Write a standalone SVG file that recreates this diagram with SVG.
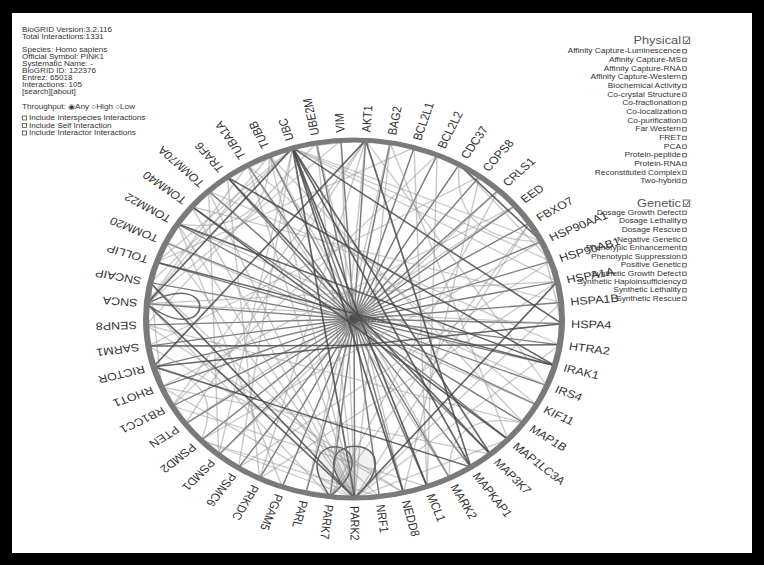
<svg xmlns="http://www.w3.org/2000/svg" width="764" height="565" viewBox="0 0 764 565">
<style>
.lbl{font-family:"Liberation Sans",Arial,sans-serif;font-size:10.8px;fill:#333}
.hub{stroke:#505050;stroke-width:1.3;stroke-opacity:.75}
.dk{stroke:#4a4a4a;stroke-width:1.5;stroke-opacity:.85;fill:none}
.lt{stroke:#999;stroke-width:1.2;stroke-opacity:.55;fill:none}
.lp{stroke:#666;stroke-width:1.4;fill:#888;fill-opacity:.12}
.leg{font-family:"Liberation Sans","DejaVu Sans",Arial,sans-serif;font-size:7px;fill:#333}
.ev{font-family:"Liberation Sans",Arial,sans-serif;font-size:7.2px;fill:#333;text-anchor:end}
.hd{font-family:"Liberation Sans",Arial,sans-serif;font-size:11px;fill:#555;text-anchor:end}
.cb{fill:#fff;stroke:#555;stroke-width:.8}
</style>
<rect width="764" height="565" fill="#000"/>
<rect x="12" y="13" width="740" height="540" fill="#fff"/>

<g id="legend-info" transform="translate(22,0) scale(1.16,1)">
<text class="leg" x="0" y="32.5">BioGRID Version:3.2.116</text>
<text class="leg" x="0" y="39.5">Total Interactions:1331</text>
<text class="leg" x="0" y="52.5">Species: Homo sapiens</text>
<text class="leg" x="0" y="59.5">Official Symbol: PINK1</text>
<text class="leg" x="0" y="66.5">Systematic Name: -</text>
<text class="leg" x="0" y="73.5">BioGRID ID: 122376</text>
<text class="leg" x="0" y="80.5">Entrez: 65018</text>
<text class="leg" x="0" y="87.5">Interactions: 105</text>
<text class="leg" x="0" y="94.5">[search][about]</text>
<text class="leg" x="0" y="109.5">Throughput: ◉Any ○High ○Low</text>
<rect class="cb" x="0.3" y="116" width="3.5" height="4"/>
<text class="leg" x="6" y="120.5">Include Interspecies Interactions</text>
<rect class="cb" x="0.3" y="123.5" width="3.5" height="4"/>
<text class="leg" x="6" y="128">Include Self Interaction</text>
<rect class="cb" x="0.3" y="131" width="3.5" height="4"/>
<text class="leg" x="6" y="135.5">Include Interactor Interactions</text>
</g>

<g id="legend-physical" transform="translate(681,0) scale(1.16,1)">
<text class="hd" x="0" y="44">Physical</text>
<rect class="cb" x="2" y="37" width="5.5" height="6.5"/>
<path d="M3,40.5 L4.5,42.5 L7,38" fill="none" stroke="#555" stroke-width=".8"/>
<text class="ev" x="0" y="53.5">Affinity Capture-Luminescence</text>
<text class="ev" x="0" y="62.2">Affinity Capture-MS</text>
<text class="ev" x="0" y="70.8">Affinity Capture-RNA</text>
<text class="ev" x="0" y="79.5">Affinity Capture-Western</text>
<text class="ev" x="0" y="88.2">Biochemical Activity</text>
<text class="ev" x="0" y="96.8">Co-crystal Structure</text>
<text class="ev" x="0" y="105.5">Co-fractionation</text>
<text class="ev" x="0" y="114.2">Co-localization</text>
<text class="ev" x="0" y="122.9">Co-purification</text>
<text class="ev" x="0" y="131.5">Far Western</text>
<text class="ev" x="0" y="140.2">FRET</text>
<text class="ev" x="0" y="148.9">PCA</text>
<text class="ev" x="0" y="157.5">Protein-peptide</text>
<text class="ev" x="0" y="166.2">Protein-RNA</text>
<text class="ev" x="0" y="174.9">Reconstituted Complex</text>
<text class="ev" x="0" y="183.5">Two-hybrid</text>
<g class="cb">
<rect x="1.5" y="49.5" width="3" height="3.5"/><rect x="1.5" y="58.2" width="3" height="3.5"/><rect x="1.5" y="66.8" width="3" height="3.5"/><rect x="1.5" y="75.5" width="3" height="3.5"/><rect x="1.5" y="84.2" width="3" height="3.5"/><rect x="1.5" y="92.8" width="3" height="3.5"/><rect x="1.5" y="101.5" width="3" height="3.5"/><rect x="1.5" y="110.2" width="3" height="3.5"/><rect x="1.5" y="118.9" width="3" height="3.5"/><rect x="1.5" y="127.5" width="3" height="3.5"/><rect x="1.5" y="136.2" width="3" height="3.5"/><rect x="1.5" y="144.9" width="3" height="3.5"/><rect x="1.5" y="153.5" width="3" height="3.5"/><rect x="1.5" y="162.2" width="3" height="3.5"/><rect x="1.5" y="170.9" width="3" height="3.5"/><rect x="1.5" y="179.5" width="3" height="3.5"/>
</g>
</g>

<g id="legend-genetic" transform="translate(681,0) scale(1.16,1)">
<text class="hd" x="0" y="207">Genetic</text>
<rect class="cb" x="2" y="200" width="5.5" height="6.5"/>
<path d="M3,203.5 L4.5,205.5 L7,201" fill="none" stroke="#555" stroke-width=".8"/>
<text class="ev" x="0" y="215">Dosage Growth Defect</text>
<text class="ev" x="0" y="223.5">Dosage Lethality</text>
<text class="ev" x="0" y="232">Dosage Rescue</text>
<text class="ev" x="0" y="242">Negative Genetic</text>
<text class="ev" x="0" y="250.5">Phenotypic Enhancement</text>
<text class="ev" x="0" y="259">Phenotypic Suppression</text>
<text class="ev" x="0" y="267.5">Positive Genetic</text>
<text class="ev" x="0" y="276">Synthetic Growth Defect</text>
<text class="ev" x="0" y="284">Synthetic Haploinsufficiency</text>
<text class="ev" x="0" y="292.5">Synthetic Lethality</text>
<text class="ev" x="0" y="301">Synthetic Rescue</text>
<g class="cb">
<rect x="1.5" y="211" width="3" height="3.5"/><rect x="1.5" y="219.5" width="3" height="3.5"/><rect x="1.5" y="228" width="3" height="3.5"/><rect x="1.5" y="238" width="3" height="3.5"/><rect x="1.5" y="246.5" width="3" height="3.5"/><rect x="1.5" y="255" width="3" height="3.5"/><rect x="1.5" y="263.5" width="3" height="3.5"/><rect x="1.5" y="272" width="3" height="3.5"/><rect x="1.5" y="280" width="3" height="3.5"/><rect x="1.5" y="288.5" width="3" height="3.5"/><rect x="1.5" y="297" width="3" height="3.5"/>
</g>
</g>

<g id="circle-view" transform="translate(354,319) scale(1.162,1)">
<g id="connectors">
<g id="hub-edges" class="hub">
<line x2="179" transform="rotate(-86.80)"/><line x2="179" transform="rotate(-80.01)"/><line x2="179" transform="rotate(-73.22)"/><line x2="179" transform="rotate(-66.42)"/><line x2="179" transform="rotate(-59.63)"/><line x2="179" transform="rotate(-52.84)"/><line x2="179" transform="rotate(-46.05)"/><line x2="179" transform="rotate(-39.25)"/><line x2="179" transform="rotate(-32.46)"/><line x2="179" transform="rotate(-25.67)"/><line x2="179" transform="rotate(-18.88)"/><line x2="179" transform="rotate(-12.08)"/><line x2="179" transform="rotate(-5.29)"/><line x2="179" transform="rotate(1.50)"/><line x2="179" transform="rotate(8.29)"/><line x2="179" transform="rotate(15.08)"/><line x2="179" transform="rotate(21.88)"/><line x2="179" transform="rotate(28.67)"/><line x2="179" transform="rotate(35.46)"/><line x2="179" transform="rotate(42.25)"/><line x2="179" transform="rotate(49.05)"/><line x2="179" transform="rotate(55.84)"/><line x2="179" transform="rotate(62.63)"/><line x2="179" transform="rotate(69.42)"/><line x2="179" transform="rotate(76.22)"/><line x2="179" transform="rotate(83.01)"/><line x2="179" transform="rotate(89.80)"/><line x2="179" transform="rotate(96.59)"/><line x2="179" transform="rotate(103.39)"/><line x2="179" transform="rotate(110.18)"/><line x2="179" transform="rotate(116.97)"/><line x2="179" transform="rotate(123.76)"/><line x2="179" transform="rotate(130.56)"/><line x2="179" transform="rotate(137.35)"/><line x2="179" transform="rotate(144.14)"/><line x2="179" transform="rotate(150.93)"/><line x2="179" transform="rotate(157.73)"/><line x2="179" transform="rotate(164.52)"/><line x2="179" transform="rotate(171.31)"/><line x2="179" transform="rotate(178.10)"/><line x2="179" transform="rotate(184.89)"/><line x2="179" transform="rotate(191.69)"/><line x2="179" transform="rotate(198.48)"/><line x2="179" transform="rotate(205.27)"/><line x2="179" transform="rotate(212.06)"/><line x2="179" transform="rotate(218.86)"/><line x2="179" transform="rotate(225.65)"/><line x2="179" transform="rotate(232.44)"/><line x2="179" transform="rotate(239.23)"/><line x2="179" transform="rotate(246.03)"/><line x2="179" transform="rotate(252.82)"/><line x2="179" transform="rotate(259.61)"/><line x2="179" transform="rotate(266.40)"/>
</g>
<g id="interactor-edges-light" class="lt">
<line x1="15.90" y1="-178.29" x2="15.90" y2="178.29" transform="rotate(4.90)"/>
<line x1="57.33" y1="-169.57" x2="57.33" y2="169.57" transform="rotate(-1.89)"/>
<line x1="67.27" y1="-165.88" x2="67.27" y2="165.88" transform="rotate(1.50)"/>
<line x1="76.99" y1="-161.60" x2="76.99" y2="161.60" transform="rotate(11.69)"/>
<line x1="5.30" y1="-178.92" x2="5.30" y2="178.92" transform="rotate(42.26)"/>
<line x1="26.43" y1="-177.04" x2="26.43" y2="177.04" transform="rotate(239.24)"/>
<line x1="86.42" y1="-156.76" x2="86.42" y2="156.76" transform="rotate(28.67)"/>
<line x1="76.99" y1="-161.60" x2="76.99" y2="161.60" transform="rotate(32.07)"/>
<line x1="174.00" y1="-42.05" x2="174.00" y2="42.05" transform="rotate(-12.08)"/>
<line x1="135.60" y1="-116.85" x2="135.60" y2="116.85" transform="rotate(293.58)"/>
<line x1="128.43" y1="-124.68" x2="128.43" y2="124.68" transform="rotate(296.97)"/>
<line x1="120.82" y1="-132.07" x2="120.82" y2="132.07" transform="rotate(300.37)"/>
<line x1="120.82" y1="-132.07" x2="120.82" y2="132.07" transform="rotate(42.26)"/>
<line x1="167.80" y1="-62.32" x2="167.80" y2="62.32" transform="rotate(-39.25)"/>
<line x1="26.43" y1="-177.04" x2="26.43" y2="177.04" transform="rotate(266.41)"/>
<line x1="5.30" y1="-178.92" x2="5.30" y2="178.92" transform="rotate(273.20)"/>
<line x1="135.60" y1="-116.85" x2="135.60" y2="116.85" transform="rotate(49.05)"/>
<line x1="104.34" y1="-145.44" x2="104.34" y2="145.44" transform="rotate(-32.46)"/>
<line x1="47.18" y1="-172.67" x2="47.18" y2="172.67" transform="rotate(313.96)"/>
<line x1="47.18" y1="-172.67" x2="47.18" y2="172.67" transform="rotate(320.75)"/>
<line x1="163.80" y1="-72.16" x2="163.80" y2="72.16" transform="rotate(66.03)"/>
<line x1="86.42" y1="-156.76" x2="86.42" y2="156.76" transform="rotate(-18.88)"/>
<line x1="5.30" y1="-178.92" x2="5.30" y2="178.92" transform="rotate(334.33)"/>
<line x1="5.30" y1="-178.92" x2="5.30" y2="178.92" transform="rotate(150.94)"/>
<line x1="5.30" y1="-178.92" x2="5.30" y2="178.92" transform="rotate(347.92)"/>
<line x1="112.78" y1="-139.00" x2="112.78" y2="139.00" transform="rotate(127.16)"/>
<line x1="159.25" y1="-81.75" x2="159.25" y2="81.75" transform="rotate(110.18)"/>
<line x1="128.43" y1="-124.68" x2="128.43" y2="124.68" transform="rotate(140.75)"/>
<line x1="5.30" y1="-178.92" x2="5.30" y2="178.92" transform="rotate(184.90)"/>
<line x1="36.87" y1="-175.16" x2="36.87" y2="175.16" transform="rotate(195.09)"/>
<line x1="176.18" y1="-31.67" x2="176.18" y2="31.67" transform="rotate(99.99)"/>
<line x1="177.74" y1="-21.17" x2="177.74" y2="21.17" transform="rotate(130.56)"/>
<line x1="76.99" y1="-161.60" x2="76.99" y2="161.60" transform="rotate(188.30)"/>
<line x1="86.42" y1="-156.76" x2="86.42" y2="156.76" transform="rotate(191.69)"/>
<line x1="163.80" y1="-72.16" x2="163.80" y2="72.16" transform="rotate(113.58)"/>
<line x1="76.99" y1="-161.60" x2="76.99" y2="161.60" transform="rotate(208.67)"/>
<line x1="86.42" y1="-156.76" x2="86.42" y2="156.76" transform="rotate(212.07)"/>
<line x1="148.46" y1="-100.00" x2="148.46" y2="100.00" transform="rotate(123.77)"/>
<line x1="171.20" y1="-52.27" x2="171.20" y2="52.27" transform="rotate(174.71)"/>
<line x1="120.82" y1="-132.07" x2="120.82" y2="132.07" transform="rotate(123.77)"/>
<line x1="135.60" y1="-116.85" x2="135.60" y2="116.85" transform="rotate(218.86)"/>
<line x1="154.13" y1="-91.02" x2="154.13" y2="91.02" transform="rotate(222.26)"/>
<line x1="159.25" y1="-81.75" x2="159.25" y2="81.75" transform="rotate(225.65)"/>
<line x1="95.55" y1="-151.36" x2="95.55" y2="151.36" transform="rotate(147.54)"/>
<line x1="86.42" y1="-156.76" x2="86.42" y2="156.76" transform="rotate(150.94)"/>
<line x1="76.99" y1="-161.60" x2="76.99" y2="161.60" transform="rotate(154.33)"/>
<line x1="67.27" y1="-165.88" x2="67.27" y2="165.88" transform="rotate(157.73)"/>
<line x1="177.74" y1="-21.17" x2="177.74" y2="21.17" transform="rotate(212.07)"/>
<line x1="177.74" y1="-21.17" x2="177.74" y2="21.17" transform="rotate(218.86)"/>
<line x1="176.18" y1="-31.67" x2="176.18" y2="31.67" transform="rotate(242.63)"/>
<line x1="159.25" y1="-81.75" x2="159.25" y2="81.75" transform="rotate(212.07)"/>
<line x1="154.13" y1="-91.02" x2="154.13" y2="91.02" transform="rotate(215.46)"/>
<line x1="36.87" y1="-175.16" x2="36.87" y2="175.16" transform="rotate(167.92)"/>
<line x1="47.18" y1="-172.67" x2="47.18" y2="172.67" transform="rotate(164.52)"/>
<line x1="15.90" y1="-178.29" x2="15.90" y2="178.29" transform="rotate(174.71)"/>
<line x1="135.60" y1="-116.85" x2="135.60" y2="116.85" transform="rotate(225.65)"/>
<line x1="5.30" y1="-178.92" x2="5.30" y2="178.92" transform="rotate(178.11)"/>
<line x1="176.18" y1="-31.67" x2="176.18" y2="31.67" transform="rotate(263.01)"/>
<line x1="57.33" y1="-169.57" x2="57.33" y2="169.57" transform="rotate(25.28)"/>
<line x1="5.30" y1="-178.92" x2="5.30" y2="178.92" transform="rotate(232.45)"/>
<line x1="57.33" y1="-169.57" x2="57.33" y2="169.57" transform="rotate(222.26)"/>
<line x1="67.27" y1="-165.88" x2="67.27" y2="165.88" transform="rotate(239.24)"/>
<line x1="128.43" y1="-124.68" x2="128.43" y2="124.68" transform="rotate(242.63)"/>
<line x1="67.27" y1="-165.88" x2="67.27" y2="165.88" transform="rotate(286.79)"/>
<line x1="57.33" y1="-169.57" x2="57.33" y2="169.57" transform="rotate(296.97)"/>
<line x1="15.90" y1="-178.29" x2="15.90" y2="178.29" transform="rotate(296.97)"/>
<line x1="5.30" y1="-178.92" x2="5.30" y2="178.92" transform="rotate(116.97)"/>
<line x1="57.33" y1="-169.57" x2="57.33" y2="169.57" transform="rotate(106.79)"/>
<line x1="104.34" y1="-145.44" x2="104.34" y2="145.44" transform="rotate(103.39)"/>
<line x1="135.60" y1="-116.85" x2="135.60" y2="116.85" transform="rotate(110.18)"/>
<line x1="104.34" y1="-145.44" x2="104.34" y2="145.44" transform="rotate(137.35)"/>
<line x1="112.78" y1="-139.00" x2="112.78" y2="139.00" transform="rotate(161.12)"/>
<line x1="95.55" y1="-151.36" x2="95.55" y2="151.36" transform="rotate(174.71)"/>
<line x1="120.82" y1="-132.07" x2="120.82" y2="132.07" transform="rotate(178.11)"/>
<line x1="26.43" y1="-177.04" x2="26.43" y2="177.04" transform="rotate(55.84)"/>
<line x1="57.33" y1="-169.57" x2="57.33" y2="169.57" transform="rotate(52.45)"/>
<line x1="76.99" y1="-161.60" x2="76.99" y2="161.60" transform="rotate(52.45)"/>
<line x1="5.30" y1="-178.92" x2="5.30" y2="178.92" transform="rotate(191.69)"/>
<path d="M171.2,-52.27 Q115,0 171.2,52.27" transform="rotate(-42.65)"/>
<path d="M171.2,-52.27 Q110,0 171.2,52.27" transform="rotate(229.05)"/>
<path d="M174,-42.05 Q120,0 174,42.05" transform="rotate(49.05)"/>
<path d="M174,-42.05 Q125,0 174,42.05" transform="rotate(150.94)"/>
</g>
<g id="interactor-edges-dark" class="dk">
<line x1="26.43" y1="-177.04" x2="26.43" y2="177.04" transform="rotate(171.31)"/>
<line x1="5.30" y1="-178.92" x2="5.30" y2="178.92" transform="rotate(341.12)"/>
<line x1="36.87" y1="-175.16" x2="36.87" y2="175.16" transform="rotate(330.94)"/>
<line x1="5.30" y1="-178.92" x2="5.30" y2="178.92" transform="rotate(164.52)"/>
<line x1="57.33" y1="-169.57" x2="57.33" y2="169.57" transform="rotate(303.77)"/>
<line x1="5.30" y1="-178.92" x2="5.30" y2="178.92" transform="rotate(320.75)"/>
<line x1="5.30" y1="-178.92" x2="5.30" y2="178.92" transform="rotate(286.79)"/>
<line x1="120.82" y1="-132.07" x2="120.82" y2="132.07" transform="rotate(137.35)"/>
<line x1="112.78" y1="-139.00" x2="112.78" y2="139.00" transform="rotate(140.75)"/>
<line x1="104.34" y1="-145.44" x2="104.34" y2="145.44" transform="rotate(307.16)"/>
<line x1="148.46" y1="-100.00" x2="148.46" y2="100.00" transform="rotate(218.86)"/>
<line x1="112.78" y1="-139.00" x2="112.78" y2="139.00" transform="rotate(38.86)"/>
<line x1="26.43" y1="-177.04" x2="26.43" y2="177.04" transform="rotate(334.33)"/>
<line x1="171.20" y1="-52.27" x2="171.20" y2="52.27" transform="rotate(-42.65)"/>
<line x1="26.43" y1="-177.04" x2="26.43" y2="177.04" transform="rotate(293.58)"/>
<line x1="5.30" y1="-178.92" x2="5.30" y2="178.92" transform="rotate(130.56)"/>
<line x1="26.43" y1="-177.04" x2="26.43" y2="177.04" transform="rotate(83.01)"/>
<line x1="26.43" y1="-177.04" x2="26.43" y2="177.04" transform="rotate(89.80)"/>
<line x1="104.34" y1="-145.44" x2="104.34" y2="145.44" transform="rotate(110.18)"/>
<line x1="57.33" y1="-169.57" x2="57.33" y2="169.57" transform="rotate(-15.48)"/>
<line x1="104.34" y1="-145.44" x2="104.34" y2="145.44" transform="rotate(218.86)"/>
</g>
<g id="self-loops" class="lp">
<path d="M179,0 C112,-52 112,52 179,0" transform="rotate(96.59)"/>
<path d="M179,0 C110,-62 110,62 179,0" transform="rotate(89.80)"/>
<path d="M179,0 C118,-45 118,45 179,0" transform="rotate(184.89)" fill="none"/>
</g>
</g>

<circle id="ring" r="179" fill="none" stroke="#7a7a7a" stroke-width="5.2"/>

<g id="node-PINK1"><text x="4" y="3" font-family="Liberation Sans,Arial,sans-serif" font-size="8" fill="#555">PINK1</text></g>
<g id="node-AKT1"><text class="lbl" dy=".35em" transform="rotate(-86.80) translate(187,0)">AKT1</text></g>
<g id="node-BAG2"><text class="lbl" dy=".35em" transform="rotate(-80.01) translate(187,0)">BAG2</text></g>
<g id="node-BCL2L1"><text class="lbl" dy=".35em" transform="rotate(-73.22) translate(187,0)">BCL2L1</text></g>
<g id="node-BCL2L2"><text class="lbl" dy=".35em" transform="rotate(-66.42) translate(187,0)">BCL2L2</text></g>
<g id="node-CDC37"><text class="lbl" dy=".35em" transform="rotate(-59.63) translate(187,0)">CDC37</text></g>
<g id="node-COPS8"><text class="lbl" dy=".35em" transform="rotate(-52.84) translate(187,0)">COPS8</text></g>
<g id="node-CRLS1"><text class="lbl" dy=".35em" transform="rotate(-46.05) translate(187,0)">CRLS1</text></g>
<g id="node-EED"><text class="lbl" dy=".35em" transform="rotate(-39.25) translate(187,0)">EED</text></g>
<g id="node-FBXO7"><text class="lbl" dy=".35em" transform="rotate(-32.46) translate(187,0)">FBXO7</text></g>
<g id="node-HSP90AA1"><text class="lbl" dy=".35em" transform="rotate(-25.67) translate(187,0)">HSP90AA1</text></g>
<g id="node-HSP90AB1"><text class="lbl" dy=".35em" transform="rotate(-18.88) translate(187,0)">HSP90AB1</text></g>
<g id="node-HSPA1A"><text class="lbl" dy=".35em" transform="rotate(-12.08) translate(187,0)">HSPA1A</text></g>
<g id="node-HSPA1B"><text class="lbl" dy=".35em" transform="rotate(-5.29) translate(187,0)">HSPA1B</text></g>
<g id="node-HSPA4"><text class="lbl" dy=".35em" transform="rotate(1.50) translate(187,0)">HSPA4</text></g>
<g id="node-HTRA2"><text class="lbl" dy=".35em" transform="rotate(8.29) translate(187,0)">HTRA2</text></g>
<g id="node-IRAK1"><text class="lbl" dy=".35em" transform="rotate(15.08) translate(187,0)">IRAK1</text></g>
<g id="node-IRS4"><text class="lbl" dy=".35em" transform="rotate(21.88) translate(187,0)">IRS4</text></g>
<g id="node-KIF11"><text class="lbl" dy=".35em" transform="rotate(28.67) translate(187,0)">KIF11</text></g>
<g id="node-MAP1B"><text class="lbl" dy=".35em" transform="rotate(35.46) translate(187,0)">MAP1B</text></g>
<g id="node-MAP1LC3A"><text class="lbl" dy=".35em" transform="rotate(42.25) translate(187,0)">MAP1LC3A</text></g>
<g id="node-MAP3K7"><text class="lbl" dy=".35em" transform="rotate(49.05) translate(187,0)">MAP3K7</text></g>
<g id="node-MAPKAP1"><text class="lbl" dy=".35em" transform="rotate(55.84) translate(187,0)">MAPKAP1</text></g>
<g id="node-MARK2"><text class="lbl" dy=".35em" transform="rotate(62.63) translate(187,0)">MARK2</text></g>
<g id="node-MCL1"><text class="lbl" dy=".35em" transform="rotate(69.42) translate(187,0)">MCL1</text></g>
<g id="node-NEDD8"><text class="lbl" dy=".35em" transform="rotate(76.22) translate(187,0)">NEDD8</text></g>
<g id="node-NRF1"><text class="lbl" dy=".35em" transform="rotate(83.01) translate(187,0)">NRF1</text></g>
<g id="node-PARK2"><text class="lbl" dy=".35em" transform="rotate(89.80) translate(187,0)">PARK2</text></g>
<g id="node-PARK7"><text class="lbl" dy=".35em" transform="rotate(96.59) translate(187,0)">PARK7</text></g>
<g id="node-PARL"><text class="lbl" dy=".35em" transform="rotate(103.39) translate(187,0)">PARL</text></g>
<g id="node-PGAM5"><text class="lbl" dy=".35em" transform="rotate(110.18) translate(187,0)">PGAM5</text></g>
<g id="node-PRKDC"><text class="lbl" dy=".35em" transform="rotate(116.97) translate(187,0)">PRKDC</text></g>
<g id="node-PSMC6"><text class="lbl" dy=".35em" transform="rotate(123.76) translate(187,0)">PSMC6</text></g>
<g id="node-PSMD1"><text class="lbl" dy=".35em" transform="rotate(130.56) translate(187,0)">PSMD1</text></g>
<g id="node-PSMD2"><text class="lbl" dy=".35em" transform="rotate(137.35) translate(187,0)">PSMD2</text></g>
<g id="node-PTEN"><text class="lbl" dy=".35em" transform="rotate(144.14) translate(187,0)">PTEN</text></g>
<g id="node-RB1CC1"><text class="lbl" dy=".35em" transform="rotate(150.93) translate(187,0)">RB1CC1</text></g>
<g id="node-RHOT1"><text class="lbl" dy=".35em" transform="rotate(157.73) translate(187,0)">RHOT1</text></g>
<g id="node-RICTOR"><text class="lbl" dy=".35em" transform="rotate(164.52) translate(187,0)">RICTOR</text></g>
<g id="node-SARM1"><text class="lbl" dy=".35em" transform="rotate(171.31) translate(187,0)">SARM1</text></g>
<g id="node-SENP8"><text class="lbl" dy=".35em" transform="rotate(178.10) translate(187,0)">SENP8</text></g>
<g id="node-SNCA"><text class="lbl" dy=".35em" transform="rotate(184.89) translate(187,0)">SNCA</text></g>
<g id="node-SNCAIP"><text class="lbl" dy=".35em" transform="rotate(191.69) translate(187,0)">SNCAIP</text></g>
<g id="node-TOLLIP"><text class="lbl" dy=".35em" transform="rotate(198.48) translate(187,0)">TOLLIP</text></g>
<g id="node-TOMM20"><text class="lbl" dy=".35em" transform="rotate(205.27) translate(187,0)">TOMM20</text></g>
<g id="node-TOMM22"><text class="lbl" dy=".35em" transform="rotate(212.06) translate(187,0)">TOMM22</text></g>
<g id="node-TOMM40"><text class="lbl" dy=".35em" transform="rotate(218.86) translate(187,0)">TOMM40</text></g>
<g id="node-TOMM70A"><text class="lbl" dy=".35em" transform="rotate(225.65) translate(187,0)">TOMM70A</text></g>
<g id="node-TRAF6"><text class="lbl" dy=".35em" transform="rotate(232.44) translate(187,0)">TRAF6</text></g>
<g id="node-TUBA1A"><text class="lbl" dy=".35em" transform="rotate(239.23) translate(187,0)">TUBA1A</text></g>
<g id="node-TUBB"><text class="lbl" dy=".35em" transform="rotate(246.03) translate(187,0)">TUBB</text></g>
<g id="node-UBC"><text class="lbl" dy=".35em" transform="rotate(252.82) translate(187,0)">UBC</text></g>
<g id="node-UBE2M"><text class="lbl" dy=".35em" transform="rotate(259.61) translate(187,0)">UBE2M</text></g>
<g id="node-VIM"><text class="lbl" dy=".35em" transform="rotate(266.40) translate(187,0)">VIM</text></g>
</g>
</svg>
